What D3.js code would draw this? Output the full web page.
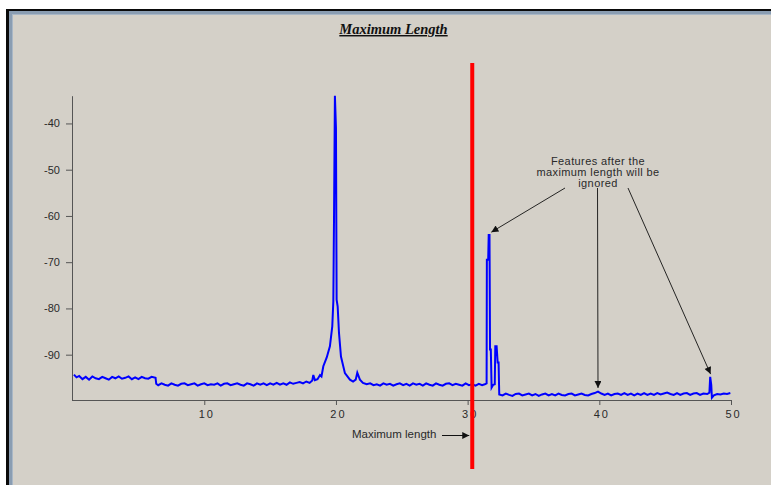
<!DOCTYPE html>
<html>
<head>
<meta charset="utf-8">
<script src="https://cdn.jsdelivr.net/npm/d3@7"></script>
<style>
  html, body { margin: 0; padding: 0; background: #fff; }
  svg { display: block; }
  .tick text, .note { font-family: 'Liberation Sans', Arial, sans-serif; fill: #2a2a2a; }
</style>
</head>
<body>
<svg></svg>
<script>
const dims = { height: 485, width: 771 }

// chart values
const title = 'Maximum Length'
const xTicks = [10, 20, 30, 40, 50]
const yTicks = [-40, -50, -60, -70, -80, -90]
const maxLength = 30.35
const maxLabel = 'Maximum length'
const noteLines = ['Features after the', 'maximum length will be', 'ignored']
// [length, level]
const trace = [
  [0.1, -94.3], [0.3, -94.9], [0.5, -94.6], [0.75, -95.3], [1.0, -94.8], [1.25, -95.4], [1.5, -94.7],
  [1.75, -95.1], [2.0, -95.3], [2.25, -94.8], [2.5, -95.1], [2.75, -95.4], [3.0, -94.8], [3.25, -95.1],
  [3.5, -94.7], [3.75, -95.2], [4.0, -95.0], [4.25, -94.7], [4.5, -95.3], [4.75, -94.9], [5.0, -95.3],
  [5.25, -94.8], [5.5, -95.1], [5.75, -95.2], [6.0, -94.8], [6.3, -95.0], [6.35, -96.3],
  [6.5, -96.6], [6.75, -96.2], [7.0, -96.5], [7.25, -96.7], [7.5, -96.2], [7.75, -96.5], [8.0, -96.7],
  [8.25, -96.3], [8.5, -96.2], [8.75, -96.6], [9.0, -96.4], [9.25, -96.2], [9.5, -96.7], [9.75, -96.4],
  [10.0, -96.2], [10.25, -96.6], [10.5, -96.4], [10.75, -96.5], [11.0, -96.2], [11.25, -96.7], [11.5, -96.3],
  [11.75, -96.2], [12.0, -96.6], [12.25, -96.4], [12.5, -96.2], [12.75, -96.5], [13.0, -96.7], [13.25, -96.2],
  [13.5, -96.4], [13.75, -96.7], [14.0, -96.2], [14.25, -96.5], [14.5, -96.2], [14.75, -96.6], [15.0, -96.2],
  [15.25, -96.5], [15.5, -96.1], [15.75, -96.5], [16.0, -96.2], [16.25, -96.5], [16.5, -96.0], [16.75, -96.3],
  [17.0, -96.1], [17.25, -95.9], [17.5, -96.2], [17.75, -95.8], [18.0, -96.1], [18.2, -95.6], [18.28, -94.4],
  [18.4, -95.5], [18.6, -95.3], [18.79, -94.4], [18.9, -94.7], [19.04, -92.5], [19.3, -90.6], [19.54, -88.2],
  [19.72, -83.9], [19.8, -78.5], [19.85, -61.2], [19.92, -34.0], [20.0, -41.0], [20.05, -78.1], [20.13, -79.6],
  [20.23, -85.3], [20.38, -90.4], [20.68, -94.0], [21.06, -95.4], [21.3, -95.8], [21.5, -95.4], [21.62, -93.9],
  [21.82, -95.4], [22.05, -96.1], [22.33, -96.4], [22.6, -96.2], [22.85, -96.6], [23.1, -96.4], [23.35, -96.7],
  [23.6, -96.2], [23.85, -96.5], [24.1, -96.3], [24.35, -96.7], [24.6, -96.4], [24.85, -96.2], [25.1, -96.6],
  [25.35, -96.3], [25.6, -96.7], [25.85, -96.2], [26.1, -96.5], [26.35, -96.3], [26.6, -96.7], [26.85, -96.2],
  [27.1, -96.5], [27.35, -96.7], [27.6, -96.2], [27.85, -96.5], [28.1, -96.7], [28.35, -96.3], [28.6, -96.2],
  [28.85, -96.6], [29.1, -96.3], [29.35, -96.5], [29.6, -96.7], [29.85, -96.2], [30.1, -96.6], [30.35, -96.4],
  [30.6, -96.7], [30.85, -96.3], [31.1, -96.6], [31.3, -96.4], [31.44, -96.2], [31.46, -69.5], [31.56, -69.5],
  [31.6, -64.1], [31.66, -64.1], [31.7, -88.9], [31.76, -88.9], [31.82, -97.1], [31.94, -96.5], [32.06, -96.4],
  [32.1, -88.2], [32.2, -88.2], [32.28, -91.7], [32.35, -91.7], [32.4, -98.6], [32.65, -98.8], [32.9, -98.4],
  [33.15, -98.7], [33.4, -98.9], [33.65, -98.5], [33.9, -98.4], [34.15, -98.8], [34.4, -98.6], [34.65, -98.4],
  [34.9, -98.8], [35.15, -98.5], [35.4, -98.9], [35.65, -98.6], [35.9, -98.4], [36.15, -98.8], [36.4, -98.5],
  [36.65, -98.8], [36.9, -98.4], [37.15, -98.7], [37.4, -98.8], [37.65, -98.5], [37.9, -98.4], [38.15, -98.8],
  [38.4, -98.6], [38.65, -98.4], [38.9, -98.7], [39.15, -98.8], [39.4, -98.5], [39.65, -98.3], [39.9, -98.0],
  [40.15, -98.4], [40.4, -98.7], [40.65, -98.4], [40.9, -98.8], [41.15, -98.5], [41.4, -98.4], [41.65, -98.7],
  [41.9, -98.3], [42.15, -98.7], [42.4, -98.4], [42.65, -98.8], [42.9, -98.4], [43.15, -98.7], [43.4, -98.3],
  [43.65, -98.7], [43.9, -98.4], [44.15, -98.7], [44.4, -98.3], [44.65, -98.6], [44.9, -98.4], [45.15, -98.2],
  [45.4, -98.5], [45.65, -98.7], [45.9, -98.3], [46.15, -98.7], [46.4, -98.4], [46.65, -98.3], [46.9, -98.7],
  [47.15, -98.4], [47.4, -98.3], [47.65, -98.7], [47.9, -98.4], [48.2, -98.5], [48.36, -98.2], [48.42, -94.8],
  [48.5, -96.5], [48.55, -99.3], [48.7, -98.8], [48.95, -98.5], [49.2, -98.6], [49.45, -98.4], [49.7, -98.5],
  [49.95, -98.3]
]

const svg = d3.select('svg')
  .attr('height', dims.height)
  .attr('width', dims.width)

// window frame
svg.append('rect').attr('x', 6).attr('y', 9).attr('width', dims.width).attr('height', dims.height)
  .attr('fill', '#0a0a0a')
svg.append('rect').attr('x', 9).attr('y', 11).attr('width', dims.width).attr('height', dims.height)
  .attr('fill', '#8a9db2')
svg.append('rect').attr('x', 12).attr('y', 14).attr('width', dims.width).attr('height', dims.height)
  .attr('fill', '#a9b7c6')
svg.append('rect').attr('x', 13).attr('y', 15).attr('width', dims.width).attr('height', dims.height)
  .attr('fill', '#d4d0c8')

svg.append('text')
  .attr('x', 393.5).attr('y', 34)
  .attr('text-anchor', 'middle')
  .attr('font-family', "'Liberation Serif', 'Times New Roman', serif")
  .attr('font-size', 14.5)
  .attr('font-weight', 'bold')
  .attr('font-style', 'italic')
  .attr('text-decoration', 'underline')
  .attr('fill', '#111')
  .text(title)

const x = d3.scaleLinear().domain([0, 50]).range([72.6, 731])
const y = d3.scaleLinear().domain([-99.8, -34]).range([400, 95.7])

// axes
const xAxis = svg.append('g')
  .attr('transform', 'translate(0,400)')
  .call(d3.axisBottom(x).tickValues(xTicks).tickSize(5).tickSizeOuter(0).tickPadding(5)
    .tickFormat(d => String(d)))
xAxis.select('.domain').attr('d', `M72,0.5H${x(50)}`)
xAxis.selectAll('text').attr('font-size', 11).attr('letter-spacing', 2).attr('dx', 2)

const yAxis = svg.append('g')
  .attr('transform', 'translate(72,0)')
  .call(d3.axisLeft(y).tickValues(yTicks).tickSize(6).tickSizeOuter(0).tickPadding(6)
    .tickFormat(d => String(d)))
yAxis.selectAll('text').attr('font-size', 11)

svg.selectAll('.domain, .tick line').attr('stroke', '#555')

// trace
const line = d3.line().x(d => x(d[0])).y(d => y(d[1]))
svg.append('path')
  .datum(trace)
  .attr('fill', 'none')
  .attr('stroke', '#0000ff')
  .attr('stroke-width', 2)
  .attr('stroke-linejoin', 'miter')
  .attr('d', line)

// max length marker
svg.append('line')
  .attr('x1', x(maxLength)).attr('x2', x(maxLength))
  .attr('y1', 63).attr('y2', 469)
  .attr('stroke', '#ff0000')
  .attr('stroke-width', 4)

svg.append('defs').append('marker')
  .attr('id', 'head')
  .attr('viewBox', '0 0 10 10')
  .attr('refX', 10).attr('refY', 5)
  .attr('markerWidth', 9).attr('markerHeight', 7)
  .attr('markerUnits', 'userSpaceOnUse')
  .attr('orient', 'auto')
  .append('path')
    .attr('d', 'M0,0L10,5L0,10z')
    .attr('fill', '#111')

svg.append('text')
  .attr('class', 'note')
  .attr('x', 352).attr('y', 438)
  .attr('font-size', 11.5)
  .text(maxLabel)
svg.append('line')
  .attr('x1', 442).attr('y1', 435.5).attr('x2', x(maxLength) - 3).attr('y2', 435.5)
  .attr('stroke', '#111').attr('marker-end', 'url(#head)')

// note with arrows to the ignored features
svg.append('text')
  .attr('class', 'note')
  .attr('text-anchor', 'middle')
  .attr('font-size', 11)
  .attr('letter-spacing', 0.4)
  .selectAll('tspan').data(noteLines)
  .enter().append('tspan')
    .attr('x', 598)
    .attr('y', (d, i) => 165 + i * 10.8)
    .text(d => d)

const arrows = [
  [[565, 188], [31.8, -63.5]],
  [[597.5, 188], [39.9, -97.2]],
  [[628, 188], [48.45, -94.2]]
]
svg.selectAll('.arrow').data(arrows)
  .enter().append('line')
    .attr('class', 'arrow')
    .attr('x1', d => d[0][0]).attr('y1', d => d[0][1])
    .attr('x2', d => x(d[1][0])).attr('y2', d => y(d[1][1]))
    .attr('stroke', '#111')
    .attr('stroke-width', 0.9)
    .attr('marker-end', 'url(#head)')
</script>
</body>
</html>
